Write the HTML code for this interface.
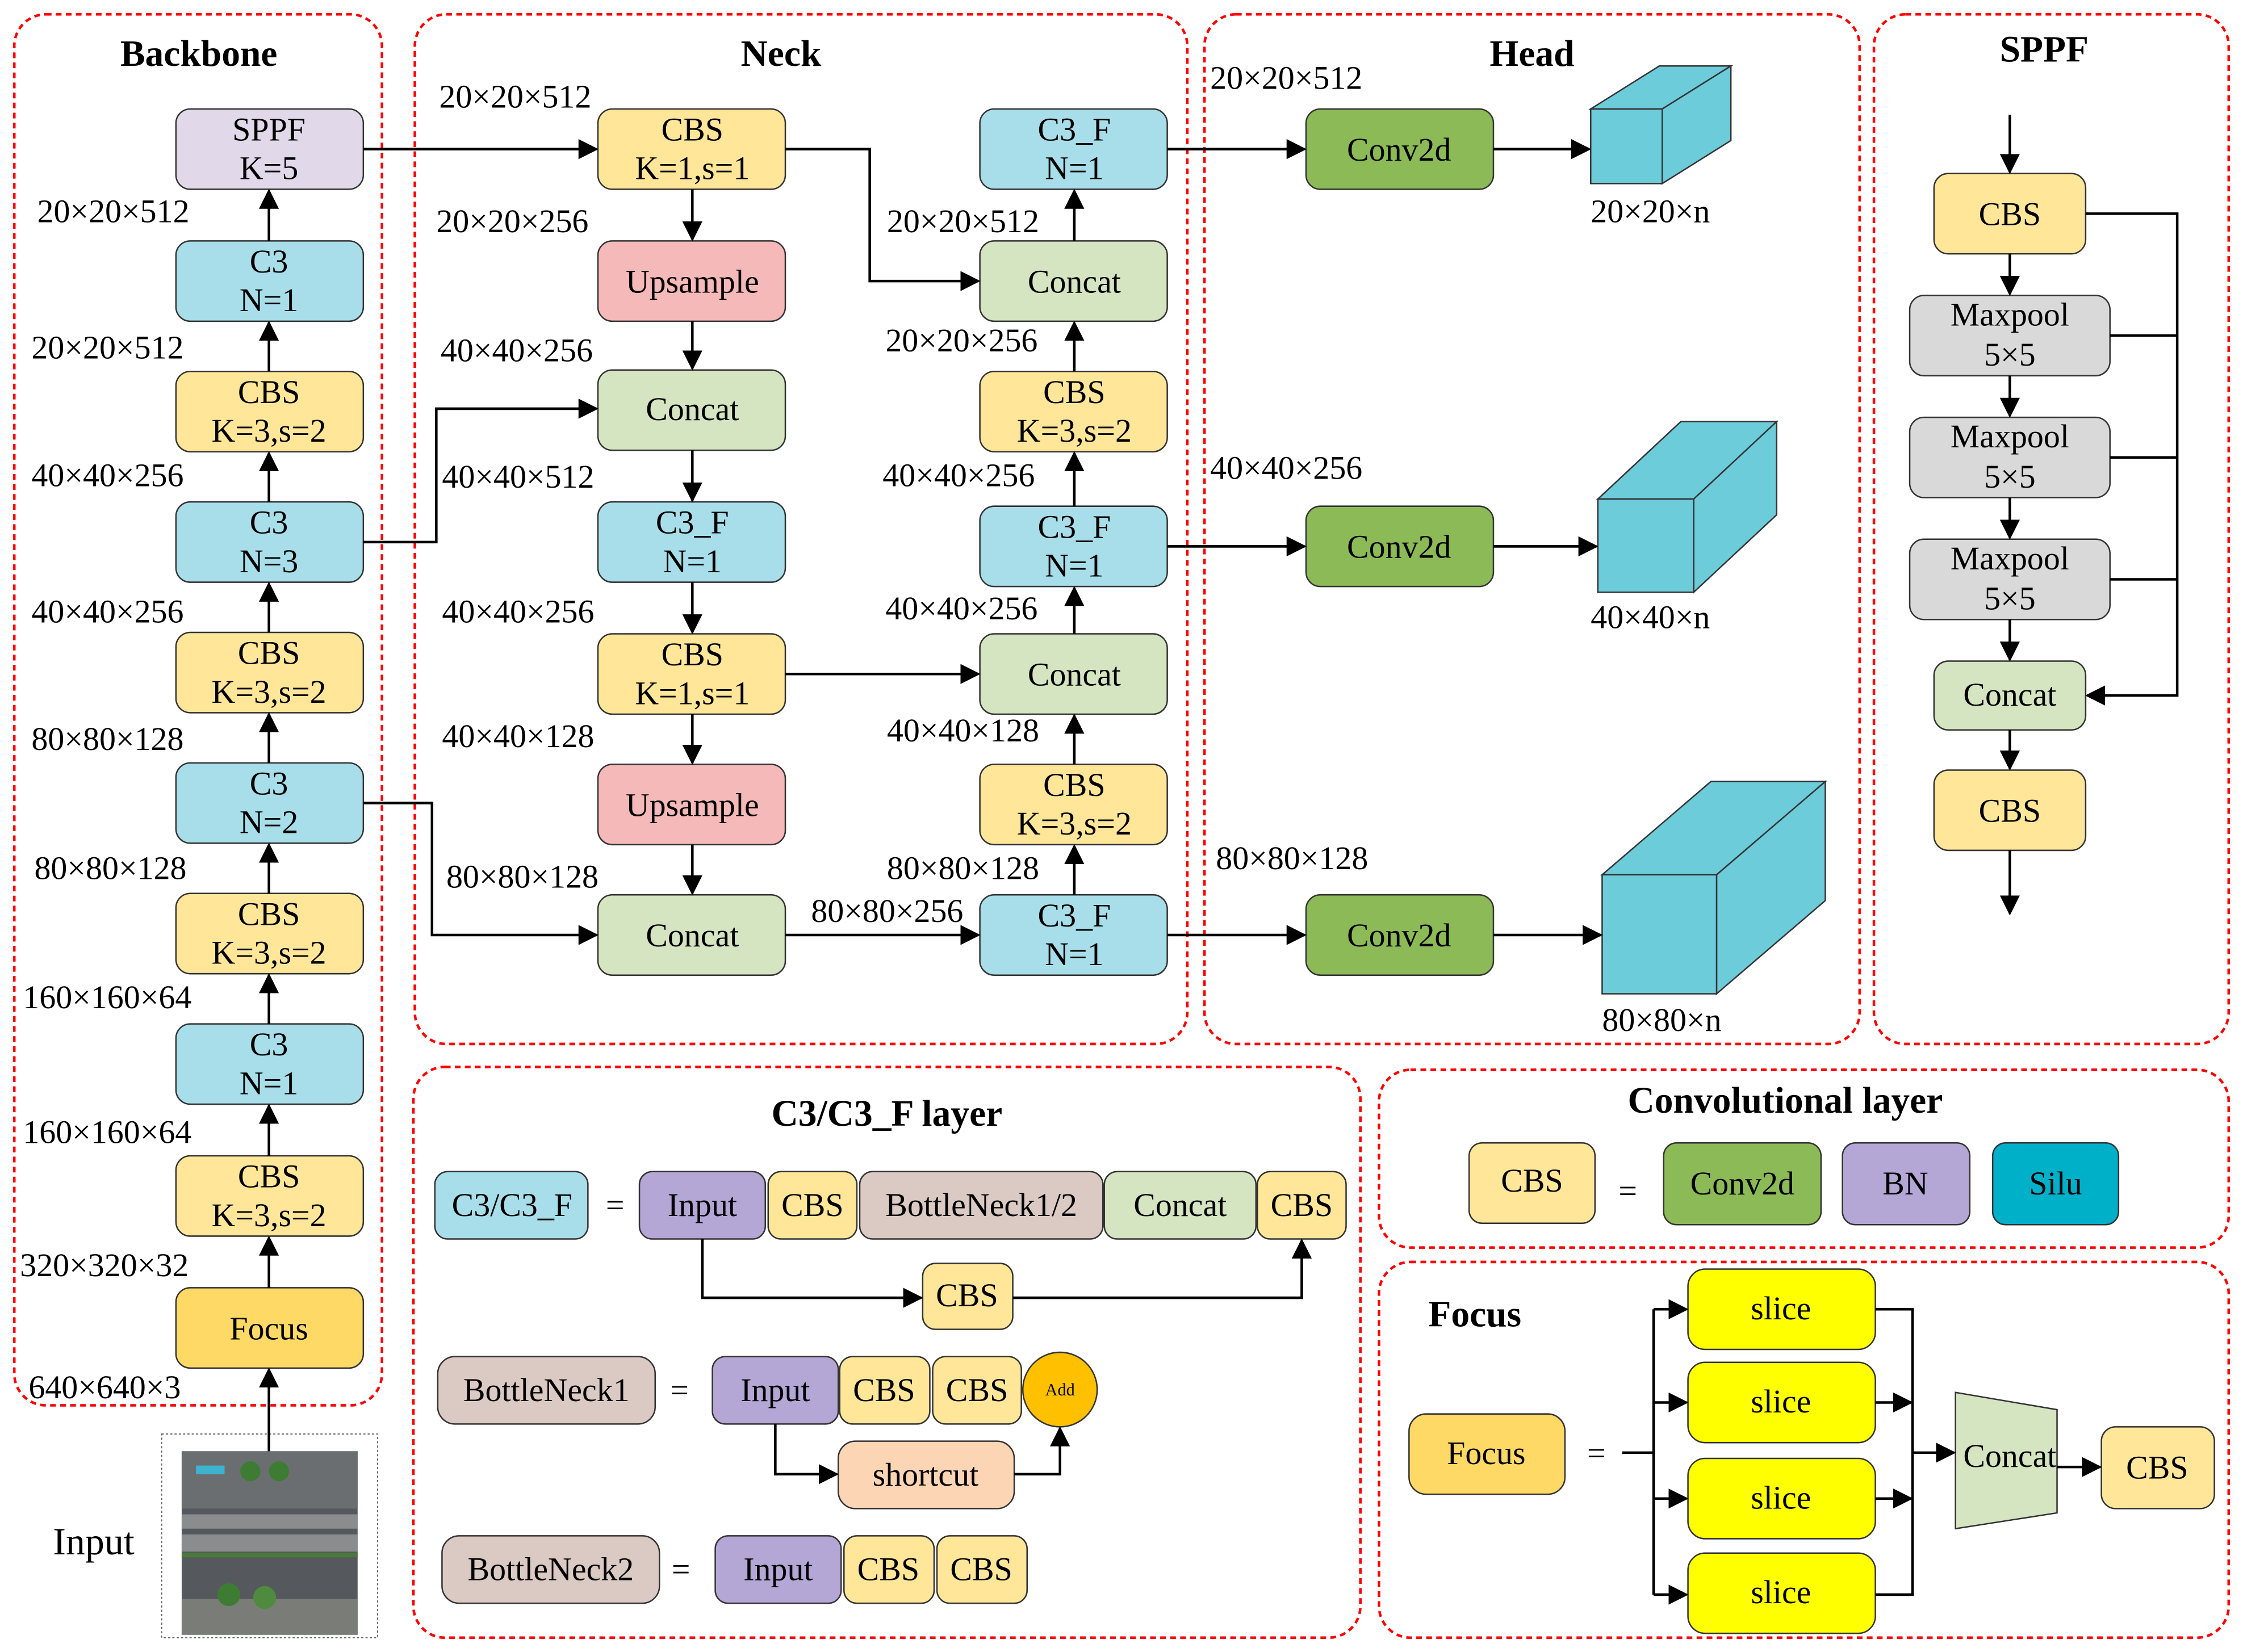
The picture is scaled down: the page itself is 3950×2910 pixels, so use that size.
<!DOCTYPE html>
<html><head><meta charset="utf-8"><style>html,body{margin:0;padding:0;background:#fff}svg{display:block}svg text{font-family:"Liberation Serif",serif}</style></head>
<body>
<svg width="3950" height="2910" viewBox="0 0 1568 1152" preserveAspectRatio="none" xmlns="http://www.w3.org/2000/svg" style="font-family:'Liberation Serif',serif" font-size="23">
<defs>
<marker id="b" viewBox="0 0 10 10" refX="9" refY="5" markerWidth="14" markerHeight="14" markerUnits="userSpaceOnUse" orient="auto"><path d="M0,0L10,5L0,10z" fill="#000"/></marker>
</defs>
<rect width="1568" height="1152" fill="#fff"/>
<g fill="none" stroke="#f00" stroke-width="1.8" stroke-dasharray="4,3">
<rect x="10" y="10" width="257" height="970" rx="22"/>
<rect x="290" y="10" width="540" height="718" rx="22"/>
<rect x="842" y="10" width="458" height="718" rx="22"/>
<rect x="1310" y="10" width="248" height="718" rx="22"/>
<rect x="289" y="744" width="662" height="398" rx="22"/>
<rect x="964" y="746" width="594" height="124" rx="22"/>
<rect x="964" y="880" width="594" height="262" rx="22"/>
</g>
<g font-weight="bold" font-size="26" text-anchor="middle">
<text x="139" y="46">Backbone</text><text x="546" y="46">Neck</text><text x="1071" y="46">Head</text><text x="1429" y="43">SPPF</text>
<text x="620" y="785">C3/C3_F layer</text><text x="1248" y="776">Convolutional layer</text><text x="1031" y="925">Focus</text>
</g>
<g stroke="#333" stroke-width="1">
<rect x="123" y="76" width="131" height="56" rx="10" fill="#E1D9E9"/>
<rect x="123" y="168" width="131" height="56" rx="10" fill="#A8DEE9"/>
<rect x="123" y="259" width="131" height="56" rx="10" fill="#FFE699"/>
<rect x="123" y="350" width="131" height="56" rx="10" fill="#A8DEE9"/>
<rect x="123" y="441" width="131" height="56" rx="10" fill="#FFE699"/>
<rect x="123" y="532" width="131" height="56" rx="10" fill="#A8DEE9"/>
<rect x="123" y="623" width="131" height="56" rx="10" fill="#FFE699"/>
<rect x="123" y="714" width="131" height="56" rx="10" fill="#A8DEE9"/>
<rect x="123" y="806" width="131" height="56" rx="10" fill="#FFE699"/>
<rect x="123" y="898" width="131" height="56" rx="10" fill="#FFD966"/>
<rect x="418" y="76" width="131" height="56" rx="10" fill="#FFE699"/>
<rect x="418" y="168" width="131" height="56" rx="10" fill="#F4B9B8"/>
<rect x="418" y="258" width="131" height="56" rx="10" fill="#D5E4C1"/>
<rect x="418" y="350" width="131" height="56" rx="10" fill="#A8DEE9"/>
<rect x="418" y="442" width="131" height="56" rx="10" fill="#FFE699"/>
<rect x="418" y="533" width="131" height="56" rx="10" fill="#F4B9B8"/>
<rect x="418" y="624" width="131" height="56" rx="10" fill="#D5E4C1"/>
<rect x="685" y="76" width="131" height="56" rx="10" fill="#A8DEE9"/>
<rect x="685" y="168" width="131" height="56" rx="10" fill="#D5E4C1"/>
<rect x="685" y="259" width="131" height="56" rx="10" fill="#FFE699"/>
<rect x="685" y="353" width="131" height="56" rx="10" fill="#A8DEE9"/>
<rect x="685" y="442" width="131" height="56" rx="10" fill="#D5E4C1"/>
<rect x="685" y="533" width="131" height="56" rx="10" fill="#FFE699"/>
<rect x="685" y="624" width="131" height="56" rx="10" fill="#A8DEE9"/>
<rect x="913" y="76" width="131" height="56" rx="10" fill="#8BBA57"/>
<rect x="913" y="353" width="131" height="56" rx="10" fill="#8BBA57"/>
<rect x="913" y="624" width="131" height="56" rx="10" fill="#8BBA57"/>
<rect x="1352" y="121" width="106" height="56" rx="10" fill="#FFE699"/>
<rect x="1335" y="206" width="140" height="56" rx="10" fill="#D9D9D9"/>
<rect x="1335" y="291" width="140" height="56" rx="10" fill="#D9D9D9"/>
<rect x="1335" y="376" width="140" height="56" rx="10" fill="#D9D9D9"/>
<rect x="1352" y="461" width="106" height="48" rx="10" fill="#D5E4C1"/>
<rect x="1352" y="537" width="106" height="56" rx="10" fill="#FFE699"/>
<rect x="304" y="817" width="107" height="47" rx="9" fill="#A8DEE9"/>
<rect x="447" y="817" width="88" height="47" rx="9" fill="#B4A7D6"/>
<rect x="537" y="817" width="62" height="47" rx="9" fill="#FFE699"/>
<rect x="601" y="817" width="170" height="47" rx="9" fill="#DBCAC3"/>
<rect x="772" y="817" width="106" height="47" rx="9" fill="#D5E4C1"/>
<rect x="879" y="817" width="62" height="47" rx="9" fill="#FFE699"/>
<rect x="645" y="881" width="63" height="46" rx="9" fill="#FFE699"/>
<rect x="306" y="946" width="152" height="47" rx="12" fill="#DBCAC3"/>
<rect x="498" y="946" width="88" height="47" rx="9" fill="#B4A7D6"/>
<rect x="587" y="946" width="63" height="47" rx="9" fill="#FFE699"/>
<rect x="652" y="946" width="62" height="47" rx="9" fill="#FFE699"/>
<circle cx="741" cy="969" r="26" fill="#FFC000"/>
<rect x="586" y="1005" width="123" height="47" rx="12" fill="#FCD5B4"/>
<rect x="309" y="1071" width="152" height="47" rx="12" fill="#DBCAC3"/>
<rect x="500" y="1071" width="88" height="47" rx="9" fill="#B4A7D6"/>
<rect x="590" y="1071" width="63" height="47" rx="9" fill="#FFE699"/>
<rect x="655" y="1071" width="63" height="47" rx="9" fill="#FFE699"/>
<rect x="1027" y="797" width="88" height="56" rx="9" fill="#FFE699"/>
<rect x="1163" y="797" width="110" height="57" rx="9" fill="#8BBA57"/>
<rect x="1288" y="797" width="89" height="57" rx="9" fill="#B4A7D6"/>
<rect x="1393" y="797" width="88" height="57" rx="9" fill="#00B0C9"/>
<rect x="985" y="986" width="109" height="56" rx="12" fill="#FFD966"/>
<rect x="1180" y="885" width="131" height="56" rx="12" fill="#FFFF00"/>
<rect x="1180" y="950" width="131" height="56" rx="12" fill="#FFFF00"/>
<rect x="1180" y="1017" width="131" height="56" rx="12" fill="#FFFF00"/>
<rect x="1180" y="1083" width="131" height="56" rx="12" fill="#FFFF00"/>
<polygon points="1367,971 1438,983 1438,1055 1367,1066" fill="#D5E4C1"/>
<rect x="1469" y="995" width="79" height="57" rx="10" fill="#FFE699"/>
<g fill="#6DCCDA">
<polygon points="1112,76 1160,46 1210,46 1162,76"/><polygon points="1162,76 1210,46 1210,98 1162,128"/><rect x="1112" y="76" width="50" height="52"/>
<polygon points="1117,348 1175,294 1242,294 1184,348"/><polygon points="1184,348 1242,294 1242,359 1184,413"/><rect x="1117" y="348" width="67" height="65"/>
<polygon points="1120,610 1196,545 1276,545 1200,610"/><polygon points="1200,610 1276,545 1276,628 1200,693"/><rect x="1120" y="610" width="80" height="83"/>
</g>
</g>
<rect x="113" y="1000" width="151" height="142" fill="#fff" stroke="#666" stroke-width="0.8" stroke-dasharray="1.5,1.5"/>
<rect x="127" y="1012" width="123" height="128" fill="#55585c"/>
<rect x="127" y="1012" width="123" height="40" fill="#6b6e70"/>
<rect x="137" y="1022" width="20" height="6" fill="#3cb4d0"/>
<rect x="127" y="1056" width="123" height="10" fill="#8a8c8e"/>
<rect x="127" y="1070" width="123" height="12" fill="#8a8c8e"/>
<rect x="127" y="1083" width="123" height="3" fill="#4a7a3a"/>
<rect x="127" y="1115" width="123" height="25" fill="#7a7c78"/>
<circle cx="175" cy="1026" r="7" fill="#3e7b33"/><circle cx="195" cy="1026" r="7" fill="#3e7b33"/><circle cx="160" cy="1112" r="8" fill="#3e7b33"/><circle cx="185" cy="1114" r="8" fill="#4f8b3f"/>
<text x="37" y="1084" font-size="27">Input</text>
<g stroke="#000" stroke-width="1.8" fill="none" marker-end="url(#b)">
<line x1="188" y1="1012" x2="188" y2="955"/>
<line x1="188" y1="898" x2="188" y2="863"/>
<line x1="188" y1="806" x2="188" y2="771"/>
<line x1="188" y1="714" x2="188" y2="680"/>
<line x1="188" y1="623" x2="188" y2="589"/>
<line x1="188" y1="532" x2="188" y2="498"/>
<line x1="188" y1="441" x2="188" y2="407"/>
<line x1="188" y1="350" x2="188" y2="316"/>
<line x1="188" y1="259" x2="188" y2="225"/>
<line x1="188" y1="168" x2="188" y2="133"/>
<line x1="254" y1="104" x2="417" y2="104"/>
<polyline points="254,378 305,378 305,285 417,285"/>
<polyline points="254,560 302,560 302,652 417,652"/>
<line x1="484" y1="132" x2="484" y2="167"/>
<line x1="484" y1="224" x2="484" y2="257"/>
<line x1="484" y1="314" x2="484" y2="349"/>
<line x1="484" y1="406" x2="484" y2="441"/>
<line x1="484" y1="498" x2="484" y2="532"/>
<line x1="484" y1="589" x2="484" y2="623"/>
<polyline points="549,104 608,104 608,196 684,196"/>
<line x1="549" y1="470" x2="684" y2="470"/>
<line x1="549" y1="652" x2="684" y2="652"/>
<line x1="751" y1="624" x2="751" y2="590"/>
<line x1="751" y1="533" x2="751" y2="499"/>
<line x1="751" y1="442" x2="751" y2="410"/>
<line x1="751" y1="353" x2="751" y2="316"/>
<line x1="751" y1="259" x2="751" y2="225"/>
<line x1="751" y1="168" x2="751" y2="133"/>
<line x1="816" y1="104" x2="912" y2="104"/>
<line x1="816" y1="381" x2="912" y2="381"/>
<line x1="816" y1="652" x2="912" y2="652"/>
<line x1="1044" y1="104" x2="1111" y2="104"/>
<line x1="1044" y1="381" x2="1116" y2="381"/>
<line x1="1044" y1="652" x2="1119" y2="652"/>
<line x1="1405" y1="80" x2="1405" y2="120"/>
<line x1="1405" y1="177" x2="1405" y2="205"/>
<line x1="1405" y1="262" x2="1405" y2="290"/>
<line x1="1405" y1="347" x2="1405" y2="375"/>
<line x1="1405" y1="432" x2="1405" y2="460"/>
<line x1="1405" y1="509" x2="1405" y2="536"/>
<line x1="1405" y1="593" x2="1405" y2="637"/>
<polyline points="1458,149 1522,149 1522,485 1459,485"/>
<polyline points="491,864 491,905 644,905"/>
<polyline points="708,905 910,905 910,865"/>
<polyline points="542,993 542,1028 585,1028"/>
<polyline points="709,1028 741,1028 741,996"/>
<polyline points="1156,913 1179,913"/>
<line x1="1156" y1="978" x2="1179" y2="978"/>
<line x1="1156" y1="1045" x2="1179" y2="1045"/>
<line x1="1156" y1="1112" x2="1179" y2="1112"/>
<line x1="1311" y1="978" x2="1336" y2="978"/>
<line x1="1311" y1="1045" x2="1336" y2="1045"/>
<line x1="1337" y1="1013" x2="1366" y2="1013"/>
<line x1="1438" y1="1023" x2="1468" y2="1023"/>
</g>
<g stroke="#000" stroke-width="1.8" fill="none">
<line x1="1475" y1="234" x2="1522" y2="234"/>
<line x1="1475" y1="319" x2="1522" y2="319"/>
<line x1="1475" y1="404" x2="1522" y2="404"/>
<line x1="1134" y1="1013" x2="1156" y2="1013"/>
<line x1="1156" y1="913" x2="1156" y2="1112"/>
<polyline points="1311,913 1337,913 1337,1112 1311,1112"/>
</g>
<g text-anchor="middle" font-size="23">
<text x="188" y="98">SPPF</text><text x="188" y="125">K=5</text>
<text x="188" y="190">C3</text><text x="188" y="217">N=1</text>
<text x="188" y="281">CBS</text><text x="188" y="308">K=3,s=2</text>
<text x="188" y="372">C3</text><text x="188" y="399">N=3</text>
<text x="188" y="463">CBS</text><text x="188" y="490">K=3,s=2</text>
<text x="188" y="554">C3</text><text x="188" y="581">N=2</text>
<text x="188" y="645">CBS</text><text x="188" y="672">K=3,s=2</text>
<text x="188" y="736">C3</text><text x="188" y="763">N=1</text>
<text x="188" y="828">CBS</text><text x="188" y="855">K=3,s=2</text>
<text x="188" y="934">Focus</text>
<text x="484" y="98">CBS</text><text x="484" y="125">K=1,s=1</text>
<text x="484" y="204">Upsample</text>
<text x="484" y="293">Concat</text>
<text x="484" y="372">C3_F</text><text x="484" y="399">N=1</text>
<text x="484" y="464">CBS</text><text x="484" y="491">K=1,s=1</text>
<text x="484" y="569">Upsample</text>
<text x="484" y="660">Concat</text>
<text x="751" y="98">C3_F</text><text x="751" y="125">N=1</text>
<text x="751" y="204">Concat</text>
<text x="751" y="281">CBS</text><text x="751" y="308">K=3,s=2</text>
<text x="751" y="375">C3_F</text><text x="751" y="402">N=1</text>
<text x="751" y="478">Concat</text>
<text x="751" y="555">CBS</text><text x="751" y="582">K=3,s=2</text>
<text x="751" y="646">C3_F</text><text x="751" y="673">N=1</text>
<text x="978" y="112">Conv2d</text><text x="978" y="389">Conv2d</text><text x="978" y="660">Conv2d</text>
<text x="1405" y="157">CBS</text>
<text x="1405" y="227">Maxpool</text><text x="1405" y="255">5×5</text>
<text x="1405" y="312">Maxpool</text><text x="1405" y="340">5×5</text>
<text x="1405" y="397">Maxpool</text><text x="1405" y="425">5×5</text>
<text x="1405" y="492">Concat</text>
<text x="1405" y="573">CBS</text>
<text x="358" y="848">C3/C3_F</text><text x="430" y="848">=</text>
<text x="491" y="848">Input</text><text x="568" y="848">CBS</text><text x="686" y="848">BottleNeck1/2</text>
<text x="825" y="848">Concat</text><text x="910" y="848">CBS</text><text x="676" y="911">CBS</text>
<text x="382" y="977">BottleNeck1</text><text x="475" y="977">=</text>
<text x="542" y="977">Input</text><text x="618" y="977">CBS</text><text x="683" y="977">CBS</text>
<text x="741" y="973" font-size="12">Add</text>
<text x="647" y="1036">shortcut</text>
<text x="385" y="1102">BottleNeck2</text><text x="476" y="1102">=</text>
<text x="544" y="1102">Input</text><text x="621" y="1102">CBS</text><text x="686" y="1102">CBS</text>
<text x="1071" y="831">CBS</text><text x="1138" y="838">=</text>
<text x="1218" y="833">Conv2d</text><text x="1332" y="833">BN</text><text x="1437" y="833">Silu</text>
<text x="1039" y="1021">Focus</text><text x="1116" y="1021">=</text>
<text x="1245" y="920">slice</text><text x="1245" y="985">slice</text><text x="1245" y="1052">slice</text><text x="1245" y="1118">slice</text>
<text x="1405" y="1023">Concat</text>
<text x="1508" y="1031">CBS</text>
</g>
<g font-size="23">
<text x="26" y="155">20×20×512</text><text x="22" y="250">20×20×512</text><text x="22" y="339">40×40×256</text>
<text x="22" y="434">40×40×256</text><text x="22" y="523">80×80×128</text><text x="24" y="613">80×80×128</text>
<text x="16" y="703">160×160×64</text><text x="16" y="797">160×160×64</text><text x="14" y="890">320×320×32</text><text x="20" y="975">640×640×3</text>
<text x="307" y="75">20×20×512</text><text x="305" y="162">20×20×256</text><text x="308" y="252">40×40×256</text>
<text x="309" y="340">40×40×512</text><text x="309" y="434">40×40×256</text><text x="309" y="521">40×40×128</text>
<text x="312" y="619">80×80×128</text>
<text x="620" y="162">20×20×512</text><text x="619" y="245">20×20×256</text><text x="617" y="339">40×40×256</text>
<text x="619" y="432">40×40×256</text><text x="620" y="517">40×40×128</text><text x="620" y="613">80×80×128</text>
<text x="567" y="643">80×80×256</text>
<text x="846" y="62">20×20×512</text><text x="1112" y="155">20×20×n</text>
<text x="846" y="334">40×40×256</text><text x="1112" y="438">40×40×n</text>
<text x="850" y="606">80×80×128</text><text x="1120" y="719">80×80×n</text>
</g>
</svg>
</body></html>
